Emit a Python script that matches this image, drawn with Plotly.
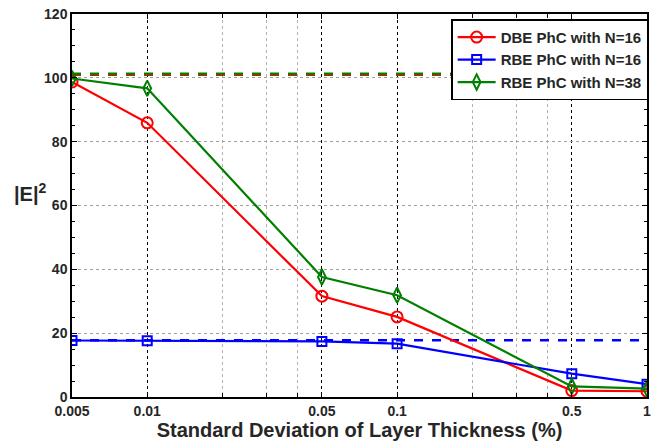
import plotly.graph_objects as go

x = [0.005, 0.01, 0.05, 0.1, 0.5, 1]
dbe16 = [98.7, 85.9, 31.6, 25.1, 2.0, 1.8]
rbe16 = [17.7, 17.6, 17.4, 16.7, 7.3, 4.0]
rbe38 = [99.8, 96.7, 37.6, 31.9, 3.3, 2.6]
ref_x = [0.005, 1]
ref_dbe = [101.0, 101.0]
ref_rbe38 = [101.3, 101.3]
ref_rbe16 = [17.8, 17.8]
xticks = [0.005, 0.01, 0.05, 0.1, 0.5, 1]
xticklabels = ["0.005", "0.01", "0.05", "0.1", "0.5", "1"]
xminor = [0.02, 0.03, 0.04, 0.2, 0.3, 0.4]

fig = go.Figure()
fig.add_trace(go.Scatter(x=ref_x, y=ref_dbe, mode="lines", line=dict(color="red", width=2.5, dash="dash"), showlegend=False))
fig.add_trace(go.Scatter(x=ref_x, y=ref_rbe38, mode="lines", line=dict(color="green", width=2.5, dash="dash"), showlegend=False))
fig.add_trace(go.Scatter(x=ref_x, y=ref_rbe16, mode="lines", line=dict(color="blue", width=2.5, dash="dash"), showlegend=False))
fig.add_trace(go.Scatter(x=x, y=dbe16, mode="lines+markers", name="DBE PhC with N=16",
                         line=dict(color="red", width=2.2),
                         marker=dict(symbol="circle-open", size=11, color="red", line=dict(width=2))))
fig.add_trace(go.Scatter(x=x, y=rbe16, mode="lines+markers", name="RBE PhC with N=16",
                         line=dict(color="blue", width=2.2),
                         marker=dict(symbol="square-open", size=9, color="blue", line=dict(width=2))))
fig.add_trace(go.Scatter(x=x, y=rbe38, mode="lines+markers", name="RBE PhC with N=38",
                         line=dict(color="green", width=2.2),
                         marker=dict(symbol="diamond-tall-open", size=11, color="green", line=dict(width=2))))

tickfont = dict(family="Liberation Sans", size=14, color="#262626", weight="bold")
fig.update_layout(
    width=665, height=441,
    margin=dict(l=72, r=18, t=14, b=44),
    plot_bgcolor="white", paper_bgcolor="white",
    showlegend=True,
    legend=dict(x=1.002, y=0.986, xanchor="right", yanchor="top",
                bordercolor="black", borderwidth=1.5, bgcolor="white",
                font=dict(family="Liberation Sans", size=15, color="#262626", weight="bold"),
                tracegroupgap=0, itemwidth=38),
    xaxis=dict(type="log", range=[-2.30103, 0], tickvals=xticks, ticktext=xticklabels,
               tickfont=tickfont, ticks="inside", ticklen=5, tickcolor="black",
               showline=True, linecolor="black", linewidth=1.5, mirror="ticks",
               showgrid=True, gridcolor="black", griddash="dot", gridwidth=1,
               minor=dict(tickmode="array", tickvals=xminor, ticks="inside", ticklen=4, tickcolor="black",
                          showgrid=True, gridcolor="#b0b0b0", griddash="dot", gridwidth=1),
               title=dict(text="Standard Deviation of Layer Thickness (%)",
                          font=dict(family="Liberation Sans", size=20, color="#262626", weight="bold")),
               automargin=False, zeroline=False),
    yaxis=dict(range=[0, 120], tickvals=[0, 20, 40, 60, 80, 100, 120],
               tickfont=tickfont, ticks="inside", ticklen=5, tickcolor="black",
               showline=True, linecolor="black", linewidth=1.5, mirror="ticks",
               showgrid=True, gridcolor="#a0a0a0", griddash="dot", gridwidth=1,
               minor=dict(dtick=5, ticks="inside", ticklen=3, tickcolor="black", showgrid=False),
               automargin=False, zeroline=False),
    annotations=[dict(text="|E|<sup>2</sup>", xref="paper", yref="paper", x=-0.073, y=0.533,
                      xanchor="center", yanchor="middle", showarrow=False,
                      font=dict(family="Liberation Sans", size=20, color="#262626", weight="bold"))],
)
fig.write_html("out.html")
